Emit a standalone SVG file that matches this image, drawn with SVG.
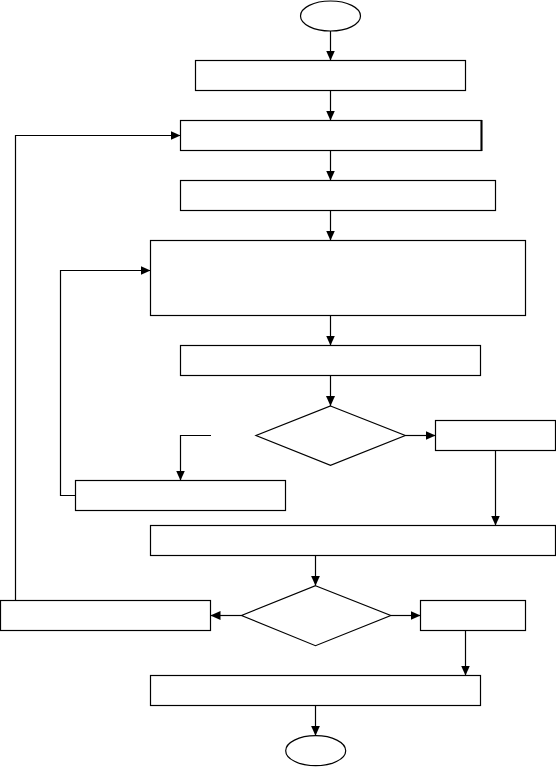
<svg xmlns="http://www.w3.org/2000/svg" width="556" height="767" viewBox="0 0 556 767">
<style>
.n{fill:#fff;stroke:#000;stroke-width:1.2}
.c{fill:none;stroke:#000;stroke-width:1.2}
.a{marker-end:url(#ah)}
</style>
<defs>
<marker id="ah" markerUnits="userSpaceOnUse" markerWidth="10" markerHeight="9" refX="10" refY="4.5" orient="auto">
<path d="M0,0 L10,4.5 L0,9 z" fill="#000"/>
</marker>
</defs>
<rect width="556" height="767" fill="#fff"/>
<g id="connectors">
<path class="c a" d="M330.5,31 V60.5"/>
<path class="c a" d="M330.5,90.5 V120.5"/>
<path class="c a" d="M330.5,150.5 V180.5"/>
<path class="c a" d="M330.5,210.5 V240.5"/>
<path class="c a" d="M330.5,315.5 V345.5"/>
<path class="c a" d="M330.5,375.5 V406"/>
<path class="c a" d="M405.3,435.5 H435.5"/>
<path class="c a" d="M495.5,450.5 V525.5"/>
<path class="c a" d="M211,435.5 H180.5 V480.5"/>
<path class="c a" d="M75.5,495.5 H60.5 V270.5 H150.5"/>
<path class="c a" d="M315.5,555.5 V585.7"/>
<path class="c a" d="M241.5,615.5 H210.5"/>
<path class="c a" d="M390.8,615.5 H420.5"/>
<path class="c a" d="M465.5,630.5 V675.5"/>
<path class="c a" d="M15.5,600.5 V135.5 H180.5"/>
<path class="c a" d="M315.5,705.5 V735.7"/>
</g>
<g id="start"><ellipse class="n" cx="330.5" cy="16" rx="30" ry="15"/></g>
<g id="box1"><rect class="n" x="195.5" y="60.5" width="270" height="30"/></g>
<g id="box2"><rect class="n" x="180.5" y="120.5" width="301" height="30"/><line x1="481.5" y1="120" x2="481.5" y2="151" stroke="#000" stroke-width="2"/></g>
<g id="box3"><rect class="n" x="180.5" y="180.5" width="315" height="30"/></g>
<g id="box4"><rect class="n" x="150.5" y="240.5" width="375" height="75"/></g>
<g id="box5"><rect class="n" x="180.5" y="345.5" width="300" height="30"/></g>
<g id="decision1"><polygon class="n" points="330.5,406 405.3,435.5 330.5,465.3 256,435.5"/></g>
<g id="box6"><rect class="n" x="435.5" y="420.5" width="120" height="30"/></g>
<g id="box8"><rect class="n" x="75.5" y="480.5" width="210" height="30"/></g>
<g id="box7"><rect class="n" x="150.5" y="525.5" width="405" height="30"/></g>
<g id="decision2"><polygon class="n" points="315.5,585.7 390.8,615.5 315.5,645.7 241.5,615.5"/></g>
<g id="box9"><rect class="n" x="0.5" y="600.5" width="210" height="30"/></g>
<g id="box10"><rect class="n" x="420.5" y="600.5" width="105" height="30"/></g>
<g id="box11"><rect class="n" x="150.5" y="675.5" width="330" height="30"/></g>
<g id="end"><ellipse class="n" cx="315.7" cy="750.7" rx="30" ry="15"/></g>
</svg>
